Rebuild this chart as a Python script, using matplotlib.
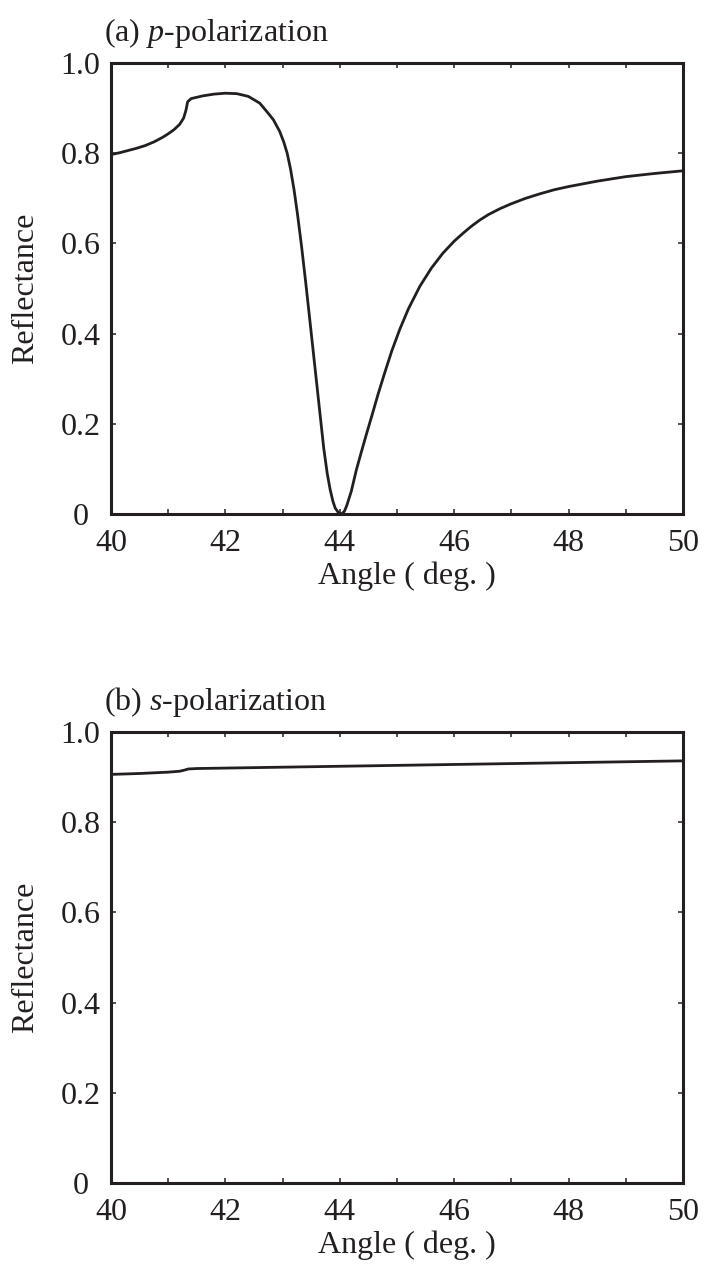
import matplotlib
matplotlib.use("Agg")
import matplotlib.pyplot as plt

plt.rcParams['font.family'] = ['Liberation Serif', 'DejaVu Serif']
plt.rcParams['mathtext.fontset'] = 'custom'
plt.rcParams['mathtext.rm'] = 'Liberation Serif'
plt.rcParams['mathtext.it'] = 'Liberation Serif:italic'

INK = '#231f20'

# ---- data ----
angle_p = [40.0, 40.15, 40.3, 40.45, 40.6, 40.75, 40.9, 41.0, 41.1, 41.2, 41.27, 41.31,
           41.34, 41.4, 41.6, 41.8, 42.0, 42.2, 42.4, 42.6, 42.72, 42.84, 42.95, 43.02,
           43.08, 43.14, 43.20, 43.26, 43.33, 43.40, 43.47, 43.54, 43.63, 43.72, 43.78,
           43.83, 43.88, 43.92, 43.97, 44.03, 44.08, 44.12, 44.2, 44.29, 44.38, 44.47,
           44.57, 44.67, 44.79, 44.91, 45.05, 45.2, 45.4, 45.6, 45.8, 46.0, 46.15, 46.3,
           46.45, 46.6, 46.8, 47.0, 47.25, 47.5, 47.75, 48.0, 48.25, 48.5, 48.75, 49.0,
           49.5, 50.0]
refl_p = [0.797, 0.801, 0.806, 0.811, 0.817, 0.825, 0.835, 0.843, 0.852, 0.864, 0.878, 0.895,
          0.914, 0.921, 0.927, 0.931, 0.933, 0.932, 0.926, 0.911, 0.893, 0.874, 0.848, 0.825,
          0.800, 0.764, 0.719, 0.665, 0.595, 0.518, 0.437, 0.355, 0.250, 0.145, 0.090,
          0.055, 0.028, 0.013, 0.004, 0.000, 0.006, 0.018, 0.050, 0.098, 0.139, 0.179,
          0.222, 0.266, 0.315, 0.362, 0.410, 0.455, 0.505, 0.545, 0.578, 0.605, 0.622, 0.638,
          0.652, 0.664, 0.677, 0.688, 0.700, 0.710, 0.719, 0.726, 0.732, 0.738, 0.743, 0.748,
          0.755, 0.761]

angle_s = [40.0, 40.5, 41.0, 41.2, 41.3, 41.35, 41.5, 42.0, 43.0, 44.0, 45.0, 46.0,
           47.0, 48.0, 49.0, 50.0]
refl_s = [0.906, 0.908, 0.911, 0.913, 0.916, 0.918, 0.919, 0.920, 0.922, 0.924, 0.926,
          0.928, 0.930, 0.932, 0.934, 0.936]

xticks = [40, 42, 44, 46, 48, 50]
xticklabels = ['40', '42', '44', '46', '48', '50']
yticks = [0, 0.2, 0.4, 0.6, 0.8, 1.0]
yticklabels = ['0', '0.2', '0.4', '0.6', '0.8', '1.0']
titles = [r'(a) $p$-polarization', r'(b) $s$-polarization']
xlabel = 'Angle ( deg. )'
ylabel = 'Reflectance'

W, H = 706, 1265
fig = plt.figure(figsize=(W / 100, H / 100), dpi=100)

def px_axes(x0, y0, x1, y1):
    return fig.add_axes([x0 / W, 1 - y1 / H, (x1 - x0) / W, (y1 - y0) / H])

ax1 = px_axes(111, 63, 683, 514)
ax2 = px_axes(111, 732, 683, 1183)

FS = 23
for ax, (xs, ys), title in zip([ax1, ax2], [(angle_p, refl_p), (angle_s, refl_s)], titles):
    ax.plot(xs, ys, color=INK, lw=2.0, solid_joinstyle='round')
    ax.set_xlim(40, 50)
    ax.set_ylim(0, 1.0)
    ax.set_xticks(xticks)
    ax.set_xticklabels(xticklabels)
    ax.set_xticks([41, 43, 45, 47, 49], minor=True)
    ax.set_yticks(yticks)
    ax.set_yticklabels(yticklabels, ha='center')
    ax.tick_params(which='both', direction='in', top=True, right=True,
                   length=3.6, width=1.1, color=INK, labelcolor=INK, labelsize=FS)
    ax.tick_params(axis='x', pad=11)
    ax.tick_params(axis='y', pad=22)
    for sp in ax.spines.values():
        sp.set_linewidth(2.2)
        sp.set_color(INK)
    ax.set_xlabel(xlabel, fontsize=FS, color=INK, va='center')
    ax.xaxis.set_label_coords(0.517, -0.137)
    ax.set_ylabel(ylabel, fontsize=FS, color=INK, va='center')
    ax.yaxis.set_label_coords(-0.150, 0.5)
    ax.text(-0.012, 1.066, title, transform=ax.transAxes, fontsize=FS, color=INK,
            ha='left', va='center')

fig.savefig('out.png', dpi=100)
